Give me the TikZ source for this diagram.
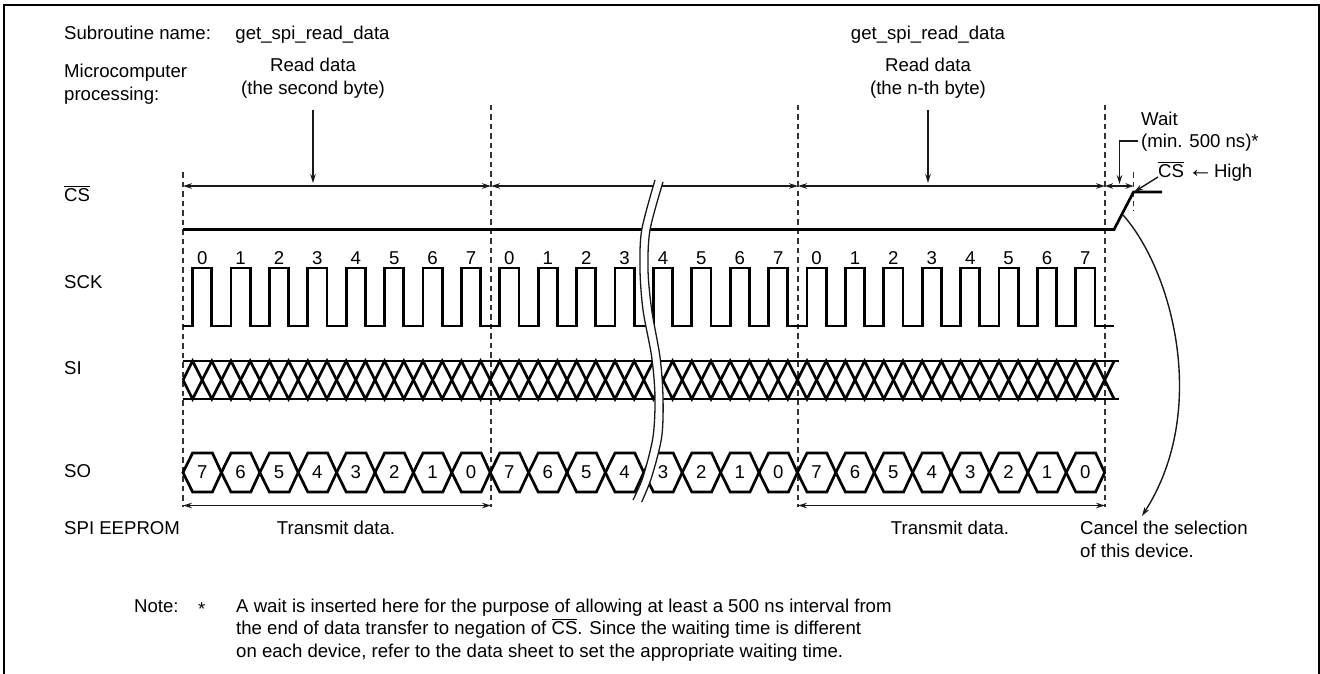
\documentclass[tikz,border=0pt]{standalone}
\usepackage{fontspec}
\setmainfont{Liberation Sans}
\usetikzlibrary{arrows.meta}
\newcommand\ovl[1]{\setbox0\hbox{#1}\rlap{\rule[\dimexpr\ht0+1.6pt\relax]{\wd0}{0.9pt}}\box0}
\tikzset{
  lbl/.style={anchor=base west,inner sep=0pt,font=\fontsize{18.6}{22}\selectfont},
  clbl/.style={anchor=base,inner sep=0pt,font=\fontsize{18.6}{22}\selectfont},
  sig/.style={line width=2.7pt,line join=miter,black},
  thin arrow/.style={line width=1.4pt,black!90,{Stealth[length=9pt,width=5.5pt]}-{Stealth[length=9pt,width=5.5pt]}},
  one arrow/.style={line width=1.4pt,black!90,-{Stealth[length=9pt,width=5.5pt]}},
  guide/.style={line width=1.6pt,black!80,dash pattern=on 5.5pt off 4pt},
  brk/.style={line width=1.3pt,black!90},
}
\begin{document}
\begin{tikzpicture}[x=1pt,y=-1pt]
\useasboundingbox (0,0) rectangle (1320,674);
% frame, open at the bottom
\draw[line width=2.4pt] (3.7,674) -- (3.7,5) -- (1319,5) -- (1319,674);
% guides
\draw[guide] (183,172) -- (183,507);
\draw[guide] (491,105) -- (491,507);
\draw[guide] (798,105) -- (798,507);
\draw[guide] (1105,105) -- (1105,507);
\draw[guide] (1133.5,172) -- (1133.5,211);
% coordinates
\coordinate (a0) at (183,186);
\coordinate (a1) at (491,186);
\coordinate (a2) at (798,186);
\coordinate (a3) at (1105,186);
\coordinate (a4) at (1133.5,186);
\coordinate (b0) at (183,505.5);
\coordinate (b1) at (491,505.5);
\coordinate (b2) at (798,505.5);
\coordinate (b3) at (1105,505.5);
% span arrows
\draw[thin arrow] (a0) -- (a1);
\draw[thin arrow] (a1) -- (a2);
\draw[thin arrow] (a2) -- (a3);
\draw[line width=1.4pt,black!90,{Stealth[length=8pt,width=5.5pt]}-{Stealth[length=8pt,width=5.5pt]}] (a3) -- (a4);
\draw[thin arrow] (b0) -- (b1);
\draw[thin arrow] (b2) -- (b3);
% CS
\draw[sig] (183,229.5) -- (1114,229.5) -- (1133.5,192) -- (1162,192);
% SCK
\draw[sig] (183,326) foreach \k in {0,...,23} {
  -- ({192.6+38.4*\k},326) -- ({192.6+38.4*\k},268) -- ({211.8+38.4*\k},268) -- ({211.8+38.4*\k},326)
} -- (1114,326);
% SI
\draw[sig] (183,361) -- (1119,361);
\draw[sig] (183,399) -- (1119,399);
\draw[sig] (183,380) -- (192.6,361) foreach \k in {0,...,47} {
  -- ({192.6+19.2*(\k+1)},{mod(\k,2)==0 ? 399 : 361})
};
\draw[sig] (183,380) -- (192.6,399) foreach \k in {0,...,47} {
  -- ({192.6+19.2*(\k+1)},{mod(\k,2)==0 ? 361 : 399})
};
% SO
\foreach \k in {0,...,23} {
  \draw[sig] ({183+38.4*\k},472.5) -- ({192.6+38.4*\k},453) -- ({212.4+38.4*\k},453) -- ({221.4+38.4*\k},472.5)
     -- ({212.4+38.4*\k},492) -- ({192.6+38.4*\k},492) -- cycle;
}
% break band
\fill[white] plot[smooth] coordinates {(655,180) (641.7,230) (640,270) (643,310) (651.7,357) (655,397) (653,437) (643,477) (633,500)}
  -- plot[smooth] coordinates {(641.7,502) (651.7,477) (661.7,437) (663,397) (660,357) (651.7,310) (648,270) (650,230) (663,182)} -- cycle;
\draw[brk] plot[smooth] coordinates {(655,180) (641.7,230) (640,270) (643,310) (651.7,357) (655,397) (653,437) (643,477) (633,500)};
\draw[brk] plot[smooth] coordinates {(663,182) (650,230) (648,270) (651.7,310) (660,357) (663,397) (661.7,437) (651.7,477) (641.7,502)};
% digits
\foreach \k in {0,...,23} {
  \pgfmathtruncatemacro\bit{mod(\k,8)}
  \pgfmathtruncatemacro\rev{7-\bit}
  \node[clbl] (sckbit\k) at ({202.2+38.4*\k},264) {\bit};
  \node[clbl] (sobit\k) at ({202.2+38.4*\k},478.5) {\rev};
}
% heading texts
\node[lbl] (sub) at (64,39.5) {Subroutine name:};
\node[clbl] (fn1) at (312.5,39.5) {get\_spi\_read\_data};
\node[clbl] (fn2) at (928,39.5) {get\_spi\_read\_data};
\node[lbl] (mc1) at (64,78) {Microcomputer};
\node[lbl] (mc2) at (64,101) {processing:};
\node[clbl] (rd1) at (313,72) {Read data};
\node[clbl] (rd1b) at (313,95) {(the second byte)};
\node[clbl] (rd2) at (928,72) {Read data};
\node[clbl] (rd2b) at (928,95) {(the n-th byte)};
\coordinate (d1s) at (313,110);
\coordinate (d1e) at (313,183);
\coordinate (d2s) at (928,110);
\coordinate (d2e) at (928,183);
\draw[one arrow] (d1s) -- (d1e);
\draw[one arrow] (d2s) -- (d2e);
% signal names
\node[lbl] (ncs) at (64,201) {\ovl{CS}};
\node[lbl] (nsck) at (64,288) {SCK};
\node[lbl] (nsi) at (64,374) {SI};
\node[lbl] (nso) at (64,477.5) {SO};
\node[lbl] (nspi) at (64,534) {SPI EEPROM};
\node[clbl] (tx1) at (336,534) {Transmit data.};
\node[clbl] (tx2) at (950,534) {Transmit data.};
% wait annotation
\node[lbl] (wait) at (1141,126) {Wait};
\node[lbl] (min) at (1141,147) {(min. 500 ns)*};
\node[lbl] (csh) at (1158,177) {\ovl{CS}\hspace{4pt}{\fontsize{25}{25}\selectfont ←}\hspace{1pt}High};
\coordinate (w1) at (1119.5,141);
\coordinate (w2) at (1119.5,184);
\coordinate (w0) at (1138,141);
\draw[one arrow,line join=miter] (w0) -- (w1) -- (w2);
\coordinate (c1) at (1158,177);
\coordinate (c2) at (1134,192);
\draw[one arrow] (c1) -- (c2);
% cancel
\node[lbl] (can1) at (1080,534) {Cancel the selection};
\node[lbl] (can2) at (1080,557) {of this device.};
\coordinate (k1) at (1123,215);
\coordinate (k2) at (1142,516);
\draw[one arrow] (k1) .. controls (1172,270) and (1210,410) .. (k2);
% note
\node[lbl] (note) at (134,612) {Note:};
\node[lbl] (star) at (198,615) {*};
\node[lbl] (n1) at (236,612) {A wait is inserted here for the purpose of allowing at least a 500 ns interval from};
\node[lbl] (n2) at (236,634.5) {the end of data transfer to negation of \ovl{CS}. Since the waiting time is different};
\node[lbl] (n3) at (236,657) {on each device, refer to the data sheet to set the appropriate waiting time.};
\end{tikzpicture}
\end{document}
